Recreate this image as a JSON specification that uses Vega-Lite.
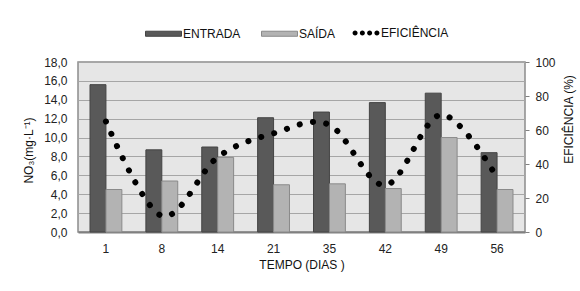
{
  "$schema": "https://vega.github.io/schema/vega-lite/v6.json",
  "width": 447,
  "height": 170,
  "autosize": {"type": "none"},
  "padding": {"left": 78, "top": 62, "right": 55, "bottom": 59},
  "background": "white",
  "datasets": {
    "barras": [
      {"dia": 1, "serie": "ENTRADA", "valor": 15.6},
      {"dia": 1, "serie": "SAÍDA", "valor": 4.5},
      {"dia": 8, "serie": "ENTRADA", "valor": 8.7},
      {"dia": 8, "serie": "SAÍDA", "valor": 5.4},
      {"dia": 14, "serie": "ENTRADA", "valor": 9.0},
      {"dia": 14, "serie": "SAÍDA", "valor": 7.9},
      {"dia": 21, "serie": "ENTRADA", "valor": 12.1},
      {"dia": 21, "serie": "SAÍDA", "valor": 5.0},
      {"dia": 35, "serie": "ENTRADA", "valor": 12.7},
      {"dia": 35, "serie": "SAÍDA", "valor": 5.1},
      {"dia": 42, "serie": "ENTRADA", "valor": 13.7},
      {"dia": 42, "serie": "SAÍDA", "valor": 4.6},
      {"dia": 49, "serie": "ENTRADA", "valor": 14.7},
      {"dia": 49, "serie": "SAÍDA", "valor": 10.0},
      {"dia": 56, "serie": "ENTRADA", "valor": 8.4},
      {"dia": 56, "serie": "SAÍDA", "valor": 4.5}
    ],
    "eficiencia": [
      {"dia": 1, "serie": "EFICIÊNCIA", "eficiencia": 65},
      {"dia": 8, "serie": "EFICIÊNCIA", "eficiencia": 9.5},
      {"dia": 14, "serie": "EFICIÊNCIA", "eficiencia": 44},
      {"dia": 21, "serie": "EFICIÊNCIA", "eficiencia": 58},
      {"dia": 35, "serie": "EFICIÊNCIA", "eficiencia": 63},
      {"dia": 42, "serie": "EFICIÊNCIA", "eficiencia": 27.5},
      {"dia": 49, "serie": "EFICIÊNCIA", "eficiencia": 69},
      {"dia": 56, "serie": "EFICIÊNCIA", "eficiencia": 32}
    ]
  },
  "config": {
    "font": "Liberation Sans",
    "view": {"fill": "#e6e6e6", "stroke": "#8c8c8c", "strokeWidth": 1.5},
    "axis": {
      "labelFont": "Liberation Sans",
      "labelFontSize": 12,
      "labelColor": "#222222",
      "titleFont": "Liberation Sans",
      "titleFontSize": 12,
      "titleFontWeight": "normal",
      "titleColor": "#111111"
    },
    "legend": {
      "labelFont": "Liberation Sans",
      "labelFontSize": 12,
      "labelColor": "#111111"
    }
  },
  "layer": [
    {
      "data": {"name": "barras"},
      "mark": {"type": "bar", "strokeWidth": 1},
      "encoding": {
        "x": {
          "field": "dia",
          "type": "ordinal",
          "scale": {"paddingInner": 0.43, "paddingOuter": 0.215},
          "axis": {
            "title": "TEMPO (DIAS )",
            "labelAngle": 0,
            "ticks": false,
            "domain": true,
            "domainColor": "#808080",
            "domainWidth": 2,
            "labelPadding": 11,
            "titlePadding": 5
          }
        },
        "xOffset": {
          "field": "serie",
          "type": "nominal",
          "scale": {"domain": ["ENTRADA", "SAÍDA"], "paddingInner": 0, "paddingOuter": 0}
        },
        "y": {
          "field": "valor",
          "type": "quantitative",
          "scale": {"domain": [0, 18], "nice": false},
          "axis": {
            "values": [0, 2, 4, 6, 8, 10, 12, 14, 16, 18],
            "labelExpr": "replace(format(datum.value, '.1f'), '.', ',')",
            "grid": true,
            "gridColor": "#a6a6a6",
            "gridWidth": 1,
            "ticks": false,
            "domain": false,
            "labelPadding": 11,
            "title": "NO₃(mg·L⁻¹)",
            "titleAngle": 270,
            "titleX": -50,
            "titleY": 88,
            "titleAlign": "center",
            "titleBaseline": "middle"
          }
        },
        "fill": {
          "field": "serie",
          "type": "nominal",
          "scale": {"domain": ["ENTRADA", "SAÍDA"], "range": ["#595959", "#b3b3b3"]},
          "legend": {
            "title": null,
            "orient": "none",
            "legendX": 67,
            "legendY": -47,
            "direction": "horizontal",
            "symbolType": "M-1,-0.14H1V0.14H-1Z",
            "symbolSize": 1296,
            "symbolStrokeWidth": 1,
            "labelOffset": 1,
            "columnPadding": 18
          }
        },
        "stroke": {
          "field": "serie",
          "type": "nominal",
          "scale": {"domain": ["ENTRADA", "SAÍDA"], "range": ["#444444", "#8a8a8a"]},
          "legend": {
            "title": null,
            "orient": "none",
            "legendX": 67,
            "legendY": -47,
            "direction": "horizontal",
            "symbolType": "M-1,-0.14H1V0.14H-1Z",
            "symbolSize": 1296,
            "symbolStrokeWidth": 1,
            "labelOffset": 1,
            "columnPadding": 18
          }
        }
      }
    },
    {
      "data": {"name": "eficiencia"},
      "mark": {"type": "line", "interpolate": "cardinal", "strokeWidth": 6, "strokeCap": "round", "color": "black"},
      "encoding": {
        "x": {"field": "dia", "type": "ordinal"},
        "y": {
          "field": "eficiencia",
          "type": "quantitative",
          "scale": {"domain": [0, 100], "nice": false},
          "axis": {
            "orient": "right",
            "values": [0, 20, 40, 60, 80, 100],
            "grid": false,
            "ticks": true,
            "tickSize": 4,
            "tickColor": "#808080",
            "domain": false,
            "labelPadding": 6,
            "title": "EFICIÊNCIA (%)",
            "titleAngle": 270,
            "titleX": 43,
            "titleY": 57,
            "titleAlign": "center",
            "titleBaseline": "middle"
          }
        },
        "strokeDash": {
          "field": "serie",
          "type": "nominal",
          "scale": {"domain": ["EFICIÊNCIA"], "range": [[0.1, 13.4]]},
          "legend": {
            "title": null,
            "orient": "none",
            "legendX": 274,
            "legendY": -43,
            "direction": "horizontal",
            "symbolType": "M-0.96,0A0.18,0.18 0 1,0 -0.6,0A0.18,0.18 0 1,0 -0.96,0ZM-0.44,0A0.18,0.18 0 1,0 -0.08,0A0.18,0.18 0 1,0 -0.44,0ZM0.08,0A0.18,0.18 0 1,0 0.44,0A0.18,0.18 0 1,0 0.08,0ZM0.6,0A0.18,0.18 0 1,0 0.96,0A0.18,0.18 0 1,0 0.6,0Z",
            "symbolSize": 784,
            "symbolFillColor": "black",
            "symbolStrokeWidth": 0,
            "labelOffset": 1,
            "encode": {"symbols": {"update": {"fill": {"value": "black"}, "strokeWidth": {"value": 0}}}}
          }
        }
      }
    }
  ],
  "resolve": {"scale": {"y": "independent"}}
}
